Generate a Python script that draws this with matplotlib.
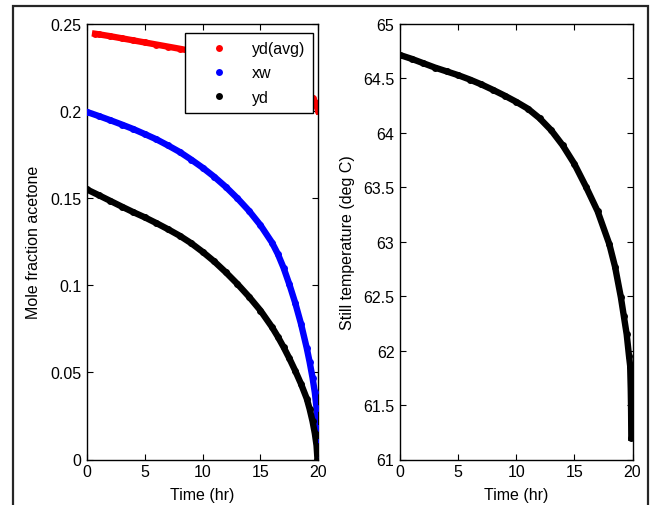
import matplotlib
matplotlib.use("Agg")
import matplotlib.pyplot as plt
from matplotlib.lines import Line2D
from matplotlib.patches import Rectangle

plt.rcParams['font.family'] = ['Liberation Sans', 'DejaVu Sans']
FS = 11.5
plt.rcParams['font.size'] = FS

# ---- data ----
t_avg = [0.7, 1, 2, 3, 4, 5, 6, 7, 8, 9, 10, 11, 12, 13, 14, 15, 16, 17, 18, 19, 19.5, 19.7, 19.85, 20]
yd_avg = [0.2444, 0.2441, 0.2430, 0.2418, 0.2406, 0.2394, 0.2382, 0.2370, 0.2358, 0.2345, 0.2331,
          0.2316, 0.2300, 0.2283, 0.2264, 0.2243, 0.2220, 0.2193, 0.2160, 0.2115, 0.2075, 0.2050,
          0.2030, 0.2000]

t_xw = [0, 1, 2, 3, 4, 5, 6, 7, 8, 9, 10, 11, 12, 13, 14, 15, 16, 16.5, 17, 17.5, 18, 18.5, 19,
        19.25, 19.5, 19.7, 19.85, 19.95, 19.98, 20]
xw = [0.1995, 0.1972, 0.1948, 0.1923, 0.1897, 0.1868, 0.1838, 0.1803, 0.1766, 0.1722, 0.1675,
      0.1623, 0.1565, 0.1500, 0.1428, 0.1345, 0.1245, 0.1180, 0.1100, 0.1005, 0.0900, 0.0780,
      0.0640, 0.0560, 0.0470, 0.0385, 0.0295, 0.0180, 0.0100, 0.0000]

t_yd = [0, 1, 2, 3, 4, 5, 6, 7, 8, 9, 10, 11, 12, 13, 14, 15, 16, 16.5, 17, 17.5, 18, 18.5, 19,
        19.25, 19.5, 19.7, 19.85, 19.93]
yd = [0.1550, 0.1518, 0.1485, 0.1452, 0.1420, 0.1390, 0.1357, 0.1322, 0.1285, 0.1242, 0.1192,
      0.1137, 0.1075, 0.1008, 0.0935, 0.0855, 0.0760, 0.0705, 0.0645, 0.0580, 0.0510, 0.0435,
      0.0350, 0.0290, 0.0220, 0.0150, 0.0080, 0.0000]

t_T = [0, 1, 2, 3, 4, 5, 6, 7, 8, 9, 10, 11, 12, 13, 14, 15, 16, 17, 18, 18.5, 19, 19.25, 19.5,
       19.7, 19.8, 19.85, 19.88, 19.9]
T_still = [64.715, 64.680, 64.640, 64.600, 64.565, 64.530, 64.490, 64.445, 64.395, 64.342, 64.285,
           64.222, 64.135, 64.025, 63.885, 63.715, 63.505, 63.280, 62.980, 62.770, 62.490, 62.320,
           62.150, 61.950, 61.860, 61.650, 61.450, 61.200]

x_ticks = [0, 5, 10, 15, 20]
left_yticks = [0, 0.05, 0.1, 0.15, 0.2, 0.25]
left_yticklabels = ['0', '0.05', '0.1', '0.15', '0.2', '0.25']
right_yticks = [61, 61.5, 62, 62.5, 63, 63.5, 64, 64.5, 65]
right_yticklabels = ['61', '61.5', '62', '62.5', '63', '63.5', '64', '64.5', '65']
legend_labels = ['yd(avg)', 'xw', 'yd']

W, H = 650, 506
fig = plt.figure(figsize=(W / 100, H / 100), dpi=100)

# outer frame
fig.patches.append(Rectangle((12.5 / W, -0.1), (647.5 - 12.5) / W, 1.1 - 6.5 / H,
                             transform=fig.transFigure, fill=False, edgecolor='#262626',
                             linewidth=1.6, zorder=0))

ax1 = fig.add_axes([87 / W, (H - 460.5) / H, 231.3 / W, 435.5 / H])
ax2 = fig.add_axes([400 / W, (H - 460.5) / H, 232.5 / W, 435.5 / H])

ms = 5.0
lw = 4.6
ax1.plot(t_avg, yd_avg, color='#ff0000', marker='o', ms=ms, mec='none', lw=lw, zorder=2)
ax1.plot(t_xw, xw, color='#0000ff', marker='o', ms=ms, mec='none', lw=lw, zorder=3)
ax1.plot(t_yd, yd, color='#000000', marker='o', ms=ms, mec='none', lw=lw, zorder=4)

ax2.plot(t_T, T_still, color='#000000', marker='o', ms=ms, mec='none', lw=lw, zorder=3)

for ax in (ax1, ax2):
    ax.set_xlim(0, 20)
    ax.set_xticks(x_ticks)
    ax.set_xticklabels([str(v) for v in x_ticks])
    ax.tick_params(direction='in', top=True, right=True, length=4, width=0.8,
                   labelsize=FS, pad=4)
    ax.tick_params(axis='x', pad=3)
    for s in ax.spines.values():
        s.set_linewidth(1.0)
    ax.set_xlabel('Time (hr)', fontsize=FS, labelpad=6)

ax1.set_ylim(0, 0.25)
ax1.set_yticks(left_yticks)
ax1.set_yticklabels(left_yticklabels)
ax1.set_ylabel('Mole fraction acetone', fontsize=FS, labelpad=7)

ax2.set_ylim(61, 65)
ax2.set_yticks(right_yticks)
ax2.set_yticklabels(right_yticklabels)
ax2.set_ylabel('Still temperature (deg C)', fontsize=FS, labelpad=6)

handles = [Line2D([], [], color=c, marker='o', ms=5, mec='none', ls='none')
           for c in ('#ff0000', '#0000ff', '#000000')]
leg = ax1.legend(handles, legend_labels, loc='upper right',
                 bbox_to_anchor=(0.977, 0.979), borderaxespad=0, fancybox=False,
                 framealpha=1, edgecolor='black', handlelength=3.3, handletextpad=0.4,
                 labelspacing=0.58, borderpad=0.5, fontsize=FS)
leg.get_frame().set_linewidth(1.0)
leg.set_zorder(10)

fig.savefig('out.png', dpi=100)
